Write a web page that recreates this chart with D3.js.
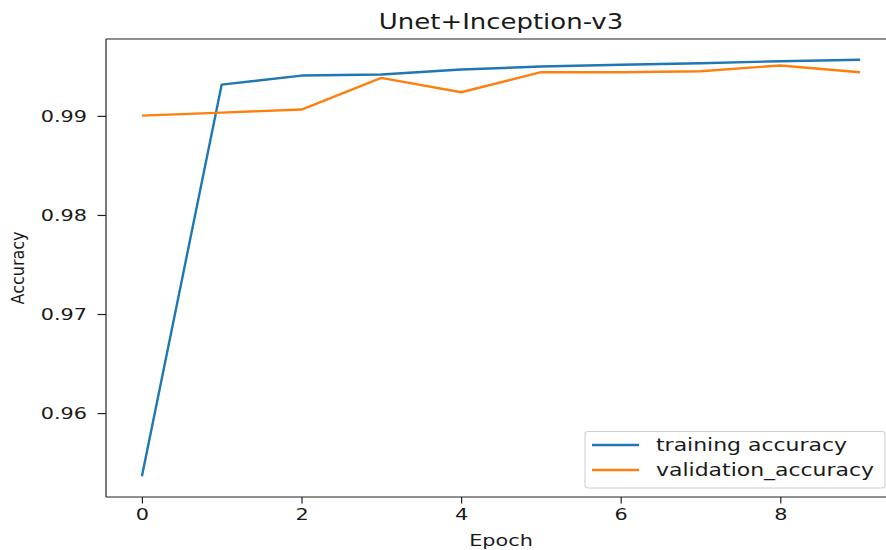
<!DOCTYPE html>
<html>
<head>
<meta charset="utf-8">
<script src="https://cdn.jsdelivr.net/npm/d3@7"></script>
<style>
  html, body { margin: 0; padding: 0; background: #fff; }
  svg { display: block; }
  text { font-family: "DejaVu Sans", sans-serif; fill: #1a1a1a; }
</style>
</head>
<body>
<svg id="chart" width="886" height="550"></svg>
<script>
// ---- data ----
const epochs = [0, 1, 2, 3, 4, 5, 6, 7, 8, 9];
const trainingAccuracy = [0.95363, 0.99316, 0.99407, 0.99418, 0.99468, 0.99498, 0.99516, 0.99532, 0.99552, 0.99566];
const validationAccuracy = [0.99003, 0.99033, 0.99064, 0.99384, 0.99239, 0.99441, 0.99441, 0.99451, 0.99509, 0.99441];
const xTicks = [0, 2, 4, 6, 8];
const yTicks = [0.96, 0.97, 0.98, 0.99];
const seriesNames = ["training accuracy", "validation_accuracy"];
const seriesColors = ["#1f77b4", "#ff7f0e"];
const titleText = "Unet+Inception-v3";
const xLabel = "Epoch";
const yLabel = "Accuracy";

// ---- layout ----
const svg = d3.select("#chart");
const pLeft = 106, pTop = 39, pBottom = 497, pRight = 896;
const SX = 1.3; // horizontal stretch of the picture

const allVals = trainingAccuracy.concat(validationAccuracy);
const yMin = d3.min(allVals), yMax = d3.max(allVals);
const yPad = (yMax - yMin) * 0.05;
const x = d3.scaleLinear().domain([-0.45, 9.45]).range([pLeft, pRight]);
const y = d3.scaleLinear().domain([yMin - yPad, yMax + yPad]).range([pBottom, pTop]);

// lines
const series = [trainingAccuracy, validationAccuracy];
const line = d3.line().x((d, i) => x(epochs[i])).y(d => y(d));
series.forEach((s, k) => {
  svg.append("path")
    .datum(s)
    .attr("d", line)
    .attr("fill", "none")
    .attr("stroke", seriesColors[k])
    .attr("stroke-width", 2.4)
    .attr("stroke-linejoin", "round");
});

// spines
const spine = (x1, y1, x2, y2) => svg.append("line")
  .attr("x1", x1).attr("y1", y1).attr("x2", x2).attr("y2", y2)
  .attr("stroke", "#222").attr("stroke-width", 1.2);
spine(pLeft, pTop, pLeft, pBottom);
spine(pLeft, pBottom, pRight, pBottom);
spine(pLeft, pTop, pRight, pTop);
spine(pRight, pTop, pRight, pBottom);

// x axis
const xAxis = svg.append("g").attr("transform", `translate(0,${pBottom})`)
  .call(d3.axisBottom(x).tickValues(xTicks).tickFormat(d3.format("d")).tickSize(6.5).tickPadding(5));
xAxis.select(".domain").remove();
xAxis.selectAll(".tick line").attr("stroke", "#222").attr("stroke-width", 1.2);
xAxis.selectAll(".tick text")
  .attr("font-size", 16).attr("font-family", "DejaVu Sans").attr("fill", "#1a1a1a")
  .attr("transform", `scale(${SX},1)`);

// y axis
const yAxis = svg.append("g").attr("transform", `translate(${pLeft},0)`)
  .call(d3.axisLeft(y).tickValues(yTicks).tickFormat(d3.format(".2f")).tickSize(8.5).tickPadding(0));
yAxis.select(".domain").remove();
yAxis.selectAll(".tick line").attr("stroke", "#222").attr("stroke-width", 1.2);
yAxis.selectAll(".tick text")
  .attr("font-size", 16).attr("font-family", "DejaVu Sans").attr("fill", "#1a1a1a")
  .attr("x", -19 / SX)
  .attr("transform", `scale(${SX},1)`);

// title
svg.append("text")
  .attr("transform", `translate(501,29) scale(1.18,1)`)
  .attr("text-anchor", "middle")
  .attr("font-size", 22)
  .text(titleText);

// axis labels
svg.append("text")
  .attr("transform", `translate(501,546) scale(${SX},1)`)
  .attr("text-anchor", "middle")
  .attr("font-size", 16)
  .text(xLabel);
svg.append("text")
  .attr("transform", `translate(24,268) rotate(-90) scale(1,${SX * 0.85})`)
  .attr("text-anchor", "middle")
  .attr("font-size", 16)
  .text(yLabel);

// legend
const lg = svg.append("g");
lg.append("rect")
  .attr("x", 585).attr("y", 431.5).attr("width", 300).attr("height", 56.5)
  .attr("rx", 3).attr("ry", 3)
  .attr("fill", "#fff").attr("fill-opacity", 0.8)
  .attr("stroke", "#d0d0d0").attr("stroke-width", 1.1);
seriesNames.forEach((name, i) => {
  const yy = 445 + i * 25;
  lg.append("line").attr("x1", 592).attr("x2", 639).attr("y1", yy).attr("y2", yy)
    .attr("stroke", seriesColors[i]).attr("stroke-width", 2.4);
  lg.append("text")
    .attr("transform", `translate(656,${yy + 5.5}) scale(1.2,1)`)
    .attr("font-size", 18.3)
    .text(name);
});
</script>
</body>
</html>
